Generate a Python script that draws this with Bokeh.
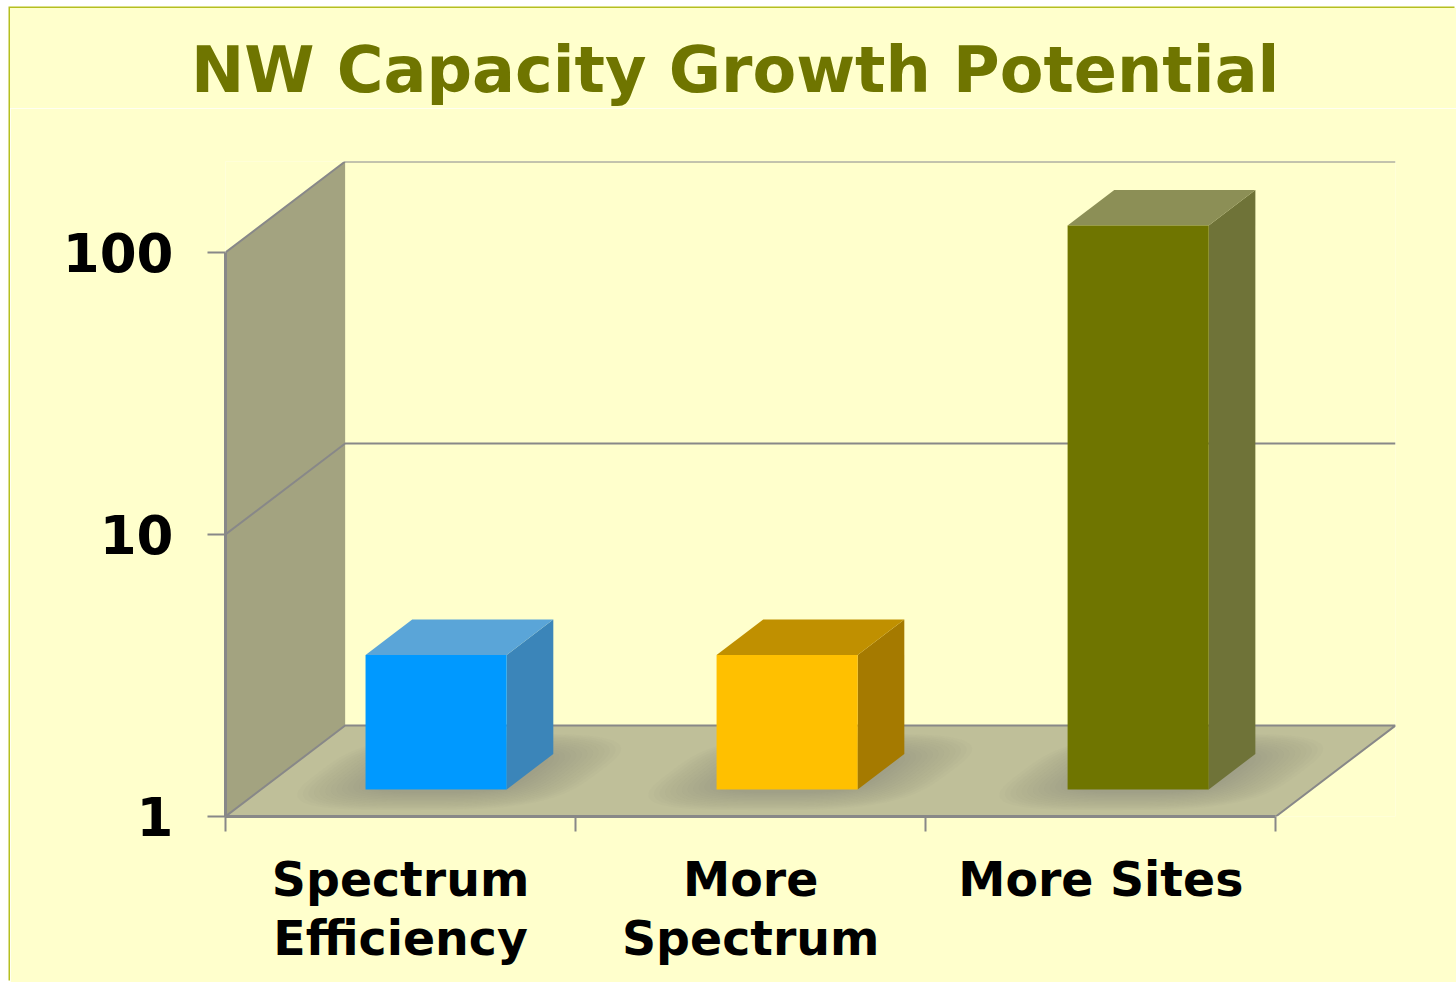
import numpy as np
from bokeh.embed import file_html
from bokeh.layouts import column
from bokeh.models import Div, FixedTicker, Range1d
from bokeh.plotting import figure
from bokeh.resources import INLINE

title_text = "NW Capacity Growth Potential"
categories = ["Spectrum\nEfficiency", "More\nSpectrum", "More Sites"]
values = [3, 3, 100]
y_ticks = [1, 10, 100]
y_tick_labels = ["1", "10", "100"]
front_colors = ["#0099ff", "#ffc000", "#6f7500"]
top_colors = ["#5aa5d8", "#c09000", "#8c8f56"]
side_colors = ["#3b85b9", "#a57a00", "#6f7338"]

BG = "#ffffcc"
GREY = "#888888"
DX = 119.5 / 349.67      # depth offset, category units
DY = 91 / 282            # depth offset, decades
BAR_W = 0.403
BAR_STEP = 1.0026        # bar spacing relative to the category ticks
D0, D1 = 0.297, 0.687    # bar depth in the floor


def proj(x, v, d):
    return x + DX * d, v * 10 ** (DY * d)


def poly(corners):
    pts = [proj(*c) for c in corners]
    return [p[0] for p in pts], [p[1] for p in pts]


n = len(categories)
title_div = Div(
    text=(f'<div style="padding:25px 0 0 181px;font-family:\'DejaVu Sans\';font-weight:bold;'
          f'font-size:63.7px;line-height:74px;color:#6f7500;white-space:nowrap">{title_text}</div>'),
    width=1446, height=100, margin=0, styles={"background-color": BG})

p = figure(width=1446, height=874, y_axis_type="log", output_backend="svg",
           toolbar_location=None, x_range=Range1d(0, n + DX),
           y_range=Range1d(y_ticks[0], y_ticks[-1] * 10 ** DY),
           background_fill_color=BG, border_fill_color=BG, outline_line_color=None,
           min_border_left=215, min_border_right=61, min_border_top=53, min_border_bottom=166,
           margin=0)
p.grid.visible = False

# walls and floor
xs, ys = poly([(0, 1, 0), (0, 1, 1), (0, 100, 1), (0, 100, 0)])
p.patch(xs, ys, fill_color="#a3a380", line_color=None)
xs, ys = poly([(0, 1, 0), (n, 1, 0), (n, 1, 1), (0, 1, 1)])
p.patch(xs, ys, fill_color="#bfbf99", line_color=None)

# soft shadows on the floor
t = np.linspace(0, 2 * np.pi, 97)
cs, sn = np.cos(t), np.sin(t)
for i in range(n):
    cx = 0.5 + i * BAR_STEP
    for k in np.linspace(1, 0.55, 14):
        sx = cx + 0.40 * k * np.sign(cs) * np.abs(cs) ** 0.6
        sd = 0.49 + 0.42 * k * np.sign(sn) * np.abs(sn) ** 0.6
        xs, ys = poly(list(zip(sx, np.ones_like(t), sd)))
        p.patch(xs, ys, fill_color="#7f7f5c", fill_alpha=0.026, line_color=None)

# grid lines on the walls
for v in y_ticks:
    xs, ys = poly([(0, v, 0), (0, v, 1), (n, v, 1)])
    if v == 1:
        xs, ys = poly([(0, v, 0), (0, v, 1), (n, v, 1), (n, v, 0)])
    p.line(xs, ys, line_color=GREY, line_width=2)

# bars
for i, v in enumerate(values):
    c = 0.5 + i * BAR_STEP
    l, r = c - BAR_W / 2, c + BAR_W / 2
    xs, ys = poly([(r, 1, D0), (r, 1, D1), (r, v, D1), (r, v, D0)])
    p.patch(xs, ys, fill_color=side_colors[i], line_color=None)
    xs, ys = poly([(l, v, D0), (r, v, D0), (r, v, D1), (l, v, D1)])
    p.patch(xs, ys, fill_color=top_colors[i], line_color=None)
    xs, ys = poly([(l, 1, D0), (r, 1, D0), (r, v, D0), (l, v, D0)])
    p.patch(xs, ys, fill_color=front_colors[i], line_color=None)

# axes
ya = p.left[0]
ya.ticker = FixedTicker(ticks=y_ticks)
ya.major_label_overrides = dict(zip(y_ticks, y_tick_labels))
ya.bounds = (y_ticks[0], y_ticks[-1])
ya.axis_line_color = GREY
ya.axis_line_width = 3
ya.major_tick_line_color = GREY
ya.major_tick_line_width = 2
ya.major_tick_in = 0
ya.major_tick_out = 18
ya.minor_tick_line_color = None
ya.major_label_standoff = 34
ya.major_label_text_font = "DejaVu Sans"
ya.major_label_text_font_style = "bold"
ya.major_label_text_font_size = "53px"
ya.major_label_text_color = "#000000"

xa = p.below[0]
centers = [i + 0.5 for i in range(n)]
xa.ticker = FixedTicker(ticks=centers, minor_ticks=list(range(n + 1)))
xa.major_label_overrides = dict(zip(centers, categories))
xa.bounds = (0, n)
xa.axis_line_color = GREY
xa.axis_line_width = 3
xa.major_tick_line_color = None
xa.minor_tick_line_color = GREY
xa.minor_tick_line_width = 2
xa.minor_tick_in = 0
xa.minor_tick_out = 15
xa.major_label_standoff = 20
xa.major_label_text_font = "DejaVu Sans"
xa.major_label_text_font_style = "bold"
xa.major_label_text_font_size = "47.4px"
xa.major_label_text_color = "#000000"
xa.major_label_text_line_height = 1.08

root = column(title_div, p, spacing=0, margin=(8, 0, 0, 10),
              styles={"box-shadow": "-1.5px -1.5px 0 #b5bf20"})

open("out.html", "w").write(file_html(root, INLINE))
